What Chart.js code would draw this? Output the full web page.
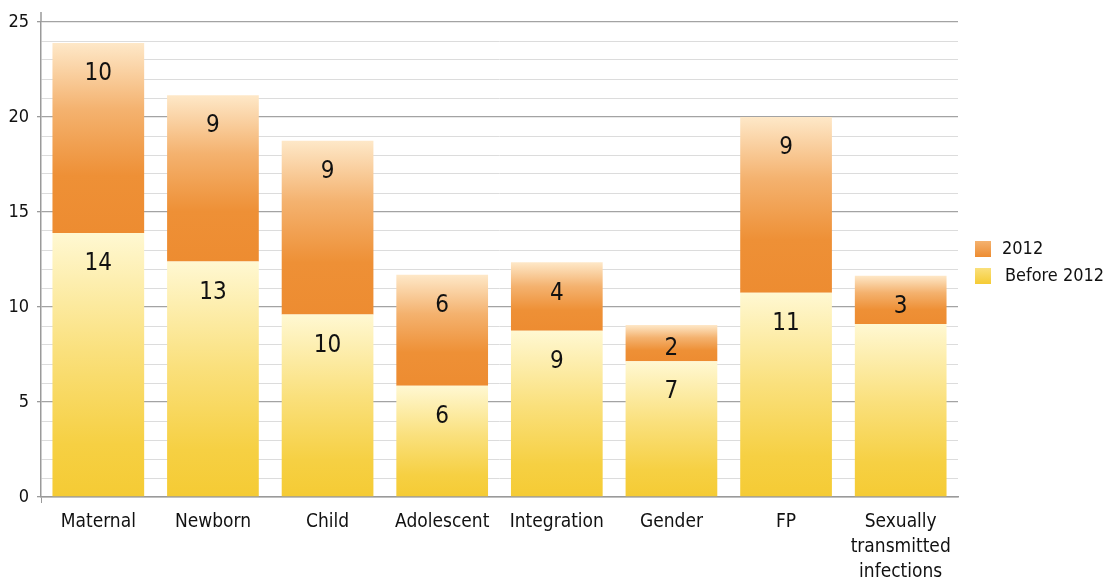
<!DOCTYPE html>
<html>
<head>
<meta charset="utf-8">
<script src="https://cdn.jsdelivr.net/npm/chart.js@4/dist/chart.umd.min.js"></script>
<style>
  html, body { margin: 0; padding: 0; background: #fff; }
  #wrap { width: 1108px; height: 581px; }
</style>
</head>
<body>
<div id="wrap"><canvas id="c" width="1108" height="581"></canvas></div>
<script>
// ---- data ----
const categories = ['Maternal', 'Newborn', 'Child', 'Adolescent', 'Integration', 'Gender', 'FP', ['Sexually', 'transmitted', 'infections']];
const before2012 = [13.9, 12.4, 9.6, 5.85, 8.75, 7.15, 10.75, 9.1];
const in2012 = [10.0, 8.75, 9.15, 5.85, 3.6, 1.9, 9.25, 2.55];
const labelsBefore2012 = [14, 13, 10, 6, 9, 7, 11, null];
const labels2012 = [10, 9, 9, 6, 4, 2, 9, 3];
const seriesNames = ['Before 2012', '2012'];
const yMin = 0, yMax = 25, yMajorStep = 5, yMinorStep = 1;

const FONT = '"Liberation Sans Narrow", "DejaVu Sans Condensed", "Roboto", sans-serif';

function gradFor(chart, datasetIndex, i, stops, fallback) {
  const area = chart.chartArea;
  if (!area || i === undefined) return fallback;
  const y = chart.scales.y;
  const base = datasetIndex === 0 ? 0 : before2012[i];
  const top = base + (datasetIndex === 0 ? before2012[i] : in2012[i]);
  const yTop = y.getPixelForValue(top), yBot = y.getPixelForValue(base);
  if (!isFinite(yTop) || !isFinite(yBot) || yTop === yBot) return fallback;
  const g = chart.ctx.createLinearGradient(0, yTop, 0, yBot);
  stops.forEach(s => g.addColorStop(s[0], s[1]));
  return g;
}
const yellowStops = [[0, '#FFF8D2'], [0.45, '#FAE07C'], [0.8, '#F6D043'], [1, '#F5CB34']];
const orangeStops = [[0, '#FEE8C8'], [0.35, '#F4B26F'], [0.7, '#EE9036'], [1, '#ED8C31']];

const barLabelPlugin = {
  id: 'barLabels',
  afterDatasetsDraw(chart) {
    const ctx = chart.ctx;
    ctx.save();
    ctx.font = '24px ' + FONT;
    ctx.fillStyle = '#111';
    ctx.textAlign = 'center';
    ctx.textBaseline = 'middle';
    [labelsBefore2012, labels2012].forEach((lbls, di) => {
      const meta = chart.getDatasetMeta(di);
      meta.data.forEach((bar, i) => {
        if (lbls[i] === null || lbls[i] === undefined) return;
        const top = Math.min(bar.y, bar.base), bot = Math.max(bar.y, bar.base);
        const cy = Math.min(top + 31, bot - 12);
        ctx.fillText(String(lbls[i]), bar.x, cy);
      });
    });
    ctx.restore();
  }
};

const legendPlugin = {
  id: 'customLegend',
  afterDraw(chart) {
    const ctx = chart.ctx;
    const items = [
      { text: seriesNames[1], stops: orangeStops, tx: 1002 },
      { text: seriesNames[0], stops: yellowStops, tx: 1005 }
    ];
    ctx.save();
    ctx.font = '18px ' + FONT;
    ctx.textBaseline = 'middle';
    ctx.textAlign = 'left';
    items.forEach((it, k) => {
      const top = 241 + k * 27;
      const g = ctx.createLinearGradient(0, top, 0, top + 16);
      g.addColorStop(0, it.stops[1][1]);
      g.addColorStop(1, it.stops[3][1]);
      ctx.fillStyle = g;
      ctx.fillRect(975, top, 16, 16);
      ctx.fillStyle = '#111';
      ctx.fillText(it.text, it.tx, top + 8, 1104 - it.tx);
    });
    ctx.restore();
  }
};

const axisCapPlugin = {
  id: 'axisCap',
  afterDraw(chart) {
    const ctx = chart.ctx, a = chart.chartArea;
    ctx.save();
    ctx.strokeStyle = '#9a9a9a';
    ctx.lineWidth = 1.5;
    ctx.beginPath();
    ctx.moveTo(a.left, a.top - 10);
    ctx.lineTo(a.left, a.top);
    ctx.stroke();
    ctx.restore();
  }
};

new Chart(document.getElementById('c'), {
  type: 'bar',
  data: {
    labels: categories,
    datasets: [
      {
        label: seriesNames[0],
        data: before2012,
        backgroundColor: c => gradFor(c.chart, 0, c.dataIndex, yellowStops, '#F8D858'),
        borderWidth: 0,
        barPercentage: 0.8,
        categoryPercentage: 1.0
      },
      {
        label: seriesNames[1],
        data: in2012,
        backgroundColor: c => gradFor(c.chart, 1, c.dataIndex, orangeStops, '#F0A050'),
        borderWidth: 0,
        barPercentage: 0.8,
        categoryPercentage: 1.0
      }
    ]
  },
  options: {
    responsive: false,
    animation: false,
    layout: { padding: { top: 22, right: 150, left: 0, bottom: 0 } },
    plugins: {
      legend: { display: false },
      tooltip: { enabled: false }
    },
    scales: {
      x: {
        stacked: true,
        grid: {
          display: true,
          drawOnChartArea: false,
          drawTicks: true,
          tickLength: 6,
          color: c => (c.index === 0 ? '#9a9a9a' : 'rgba(0,0,0,0)')
        },
        border: { display: true, color: '#9a9a9a', width: 1.5 },
        ticks: {
          color: '#111',
          font: { family: FONT, size: 19, lineHeight: 1.3 },
          padding: 7,
          maxRotation: 0,
          autoSkip: false
        },
        afterFit: s => { s.height = 84; }
      },
      y: {
        stacked: true,
        min: yMin,
        max: yMax,
        border: { display: true, color: '#9a9a9a', width: 1.5 },
        grid: {
          color: c => (c.tick && c.tick.value % yMajorStep === 0 ? '#a3a3a3' : '#dcdcdc'),
          lineWidth: c => (c.tick && c.tick.value % yMajorStep === 0 ? 1.3 : 1),
          tickColor: c => (c.tick && c.tick.value % yMajorStep === 0 ? '#9a9a9a' : 'rgba(0,0,0,0)'),
          tickLength: 4,
          drawTicks: true
        },
        ticks: {
          stepSize: yMinorStep,
          autoSkip: false,
          color: '#111',
          font: { family: FONT, size: 18 },
          padding: 8,
          callback: v => (v % yMajorStep === 0 ? String(v) : '')
        },
        afterFit: s => { s.width = 41; }
      }
    }
  },
  plugins: [barLabelPlugin, legendPlugin, axisCapPlugin]
});
</script>
</body>
</html>
